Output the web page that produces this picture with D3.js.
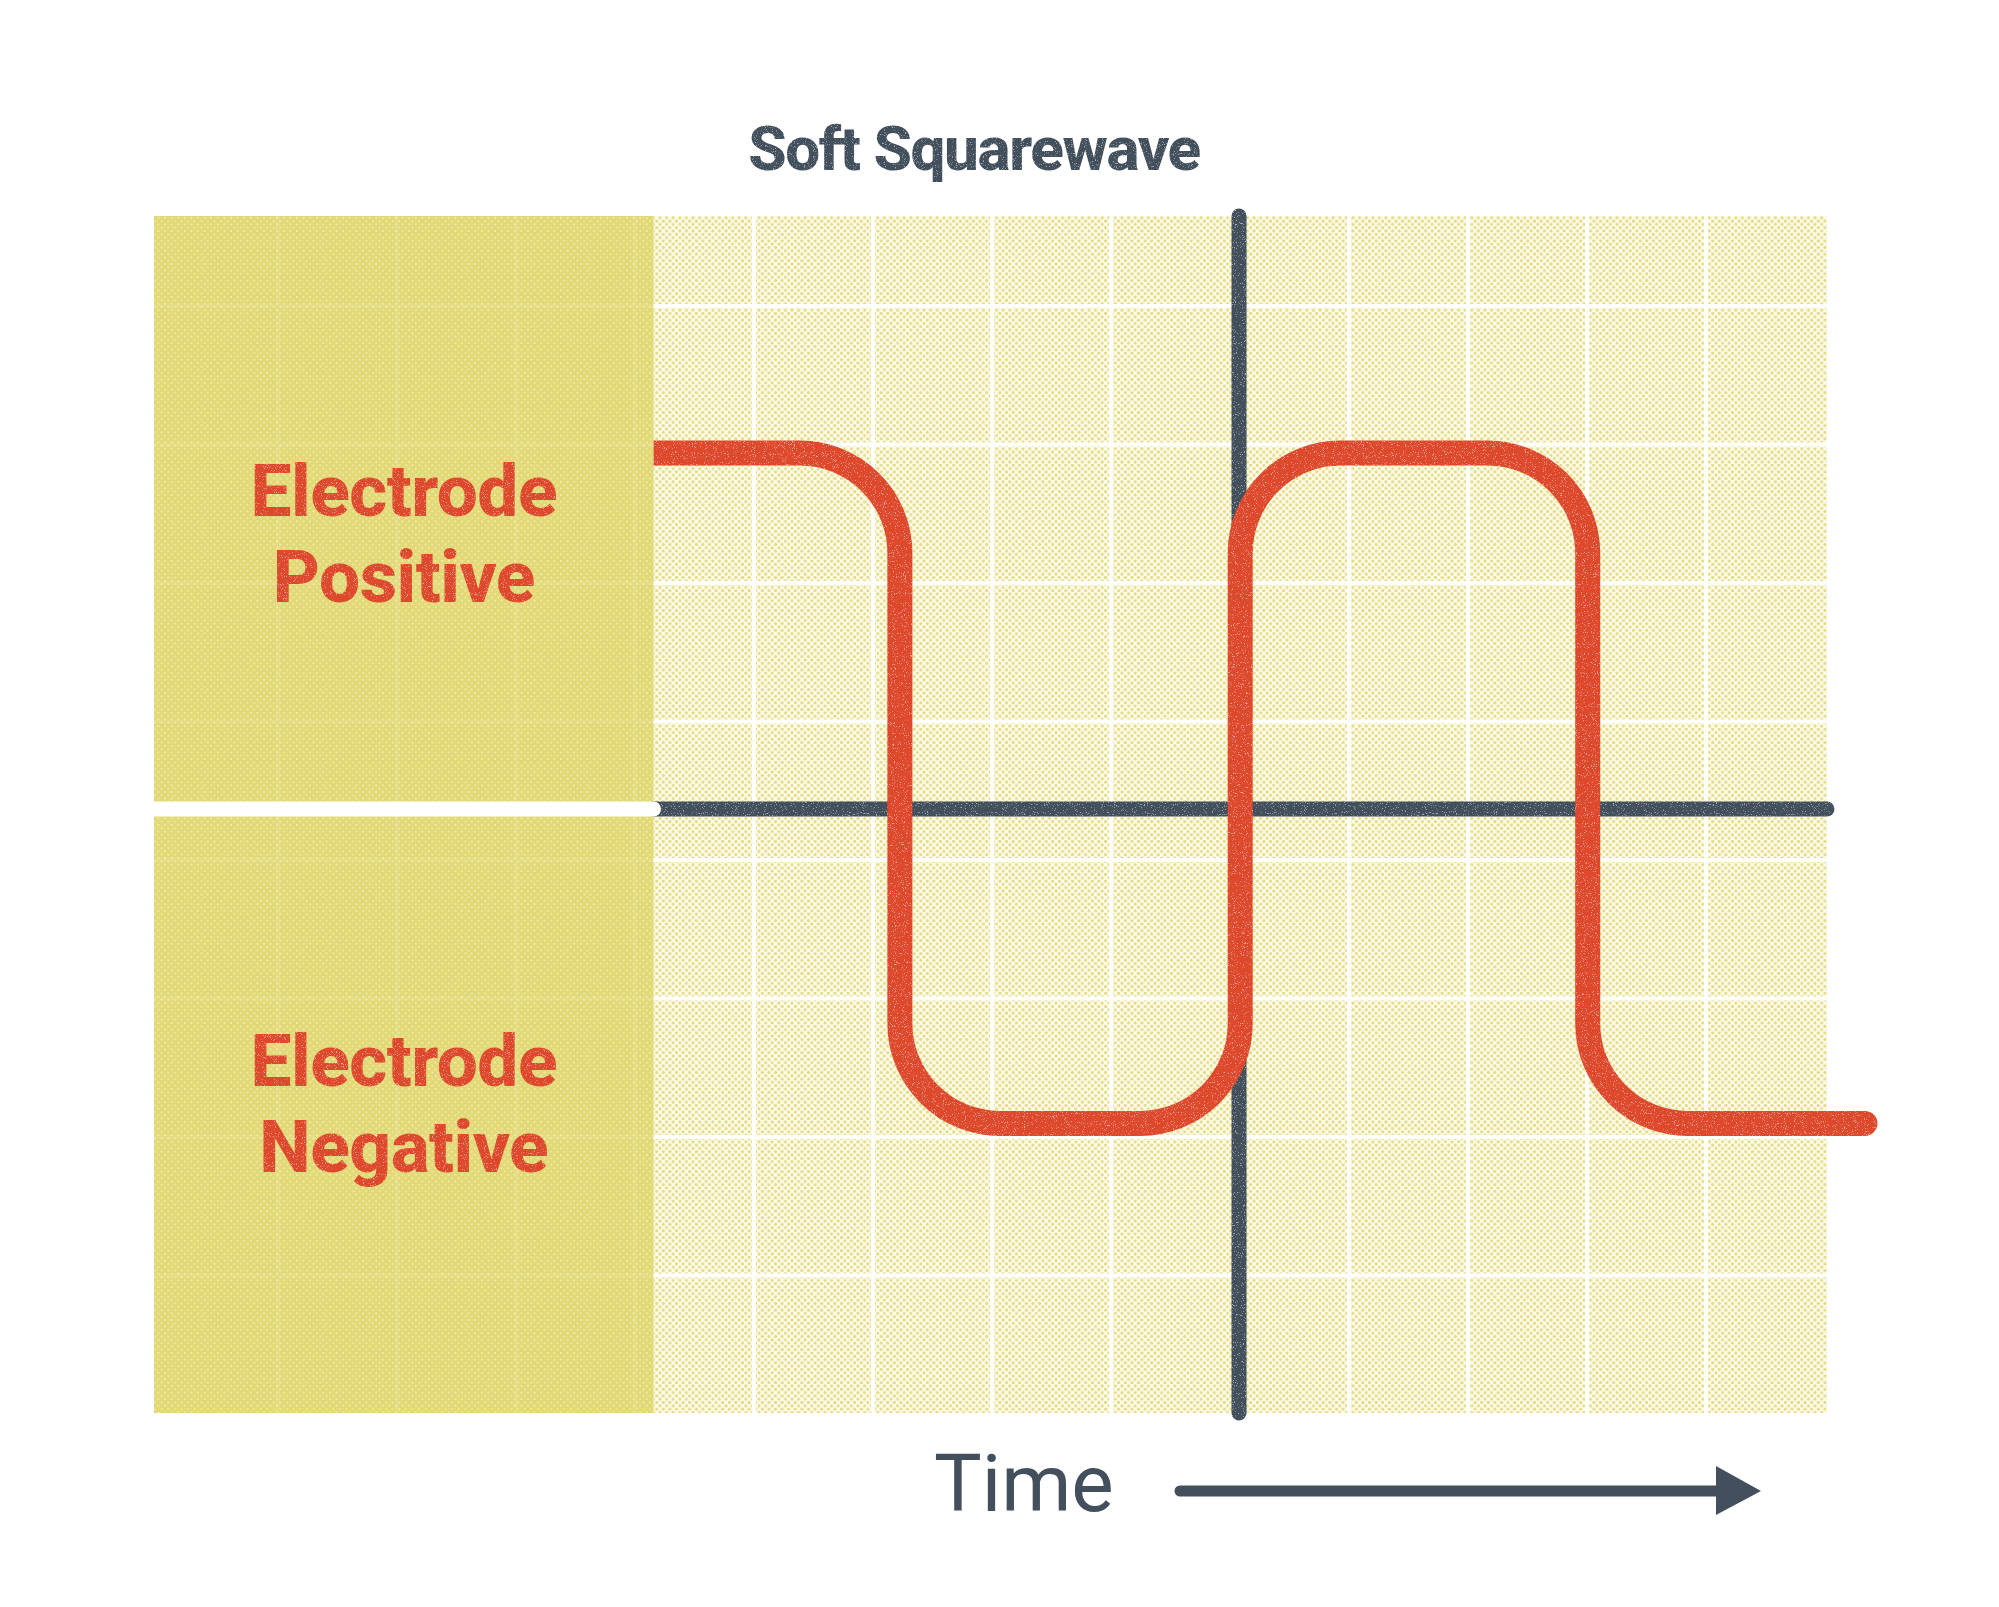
<!DOCTYPE html>
<html>
<head>
<meta charset="utf-8">
<script src="https://cdn.jsdelivr.net/npm/d3@7"></script>
<style>
  html, body { margin: 0; padding: 0; background: #fff; }
  svg { display: block; }
</style>
</head>
<body>
<div id="chart"></div>
<script>
// waveform corners: time in grid cells from the vertical axis, level in grid rows
const waveTime  = [-4.92, -2.85, -2.85, 0.01, 0.01, 2.93, 2.93, 5.26];
const waveLevel = [2.57, 2.57, -2.27, -2.27, 2.57, 2.57, -2.27, -2.27];
const levelLabels = [['Electrode', 'Positive'], ['Electrode', 'Negative']];
const titleText = 'Soft Squarewave';
const timeText = 'Time';

const W = 1999, H = 1607;
const plot = { left: 154, right: 1827, top: 216, bottom: 1413 };
const RED = '#dd4a29', SLATE = '#434f5d';

const x = d3.scaleLinear().domain([-9.118, 4.941]).range([plot.left, plot.right]);
const y = d3.scaleLinear().domain([-4.361, 4.282]).range([plot.bottom, plot.top]);

// grid of the paper is offset from the axes
const gridX = d3.range(-9, 5).map(k => k - 0.076)
  .filter(v => x(v) > plot.left + 6 && x(v) < plot.right - 6 && Math.abs(x(v) - x(0)) > 14);
const gridY = d3.range(-4, 4).map(k => k + 0.632);

const svg = d3.select('#chart').append('svg')
  .attr('width', W).attr('height', H)
  .style('font-family', "Roboto, 'Noto Sans', sans-serif");

const defs = svg.append('defs');

// halftone dot textures
const cell = 6.6;
const lattice = [[0, 0], [cell, 0], [0, cell], [cell, cell], [cell / 2, cell / 2]];
const light = defs.append('pattern')
  .attr('id', 'dotsLight').attr('patternUnits', 'userSpaceOnUse')
  .attr('width', cell).attr('height', cell);
light.append('rect').attr('width', cell).attr('height', cell).attr('fill', '#fdfcf3');
lattice.forEach(([cx, cy]) => {
  light.append('circle').attr('cx', cx).attr('cy', cy).attr('r', 1.7).attr('fill', '#e6dc80');
});

const dense = defs.append('pattern')
  .attr('id', 'dotsPanel').attr('patternUnits', 'userSpaceOnUse')
  .attr('width', cell).attr('height', cell);
dense.append('rect').attr('width', cell).attr('height', cell).attr('fill', '#e2d874');
lattice.forEach(([cx, cy]) => {
  dense.append('circle').attr('cx', cx).attr('cy', cy).attr('r', 1.0).attr('fill', '#f1ecbe');
});

// printed-ink grain: sparse pale specks inside the inked shapes
const grain = defs.append('filter').attr('id', 'grain')
  .attr('x', '-5%').attr('y', '-5%').attr('width', '110%').attr('height', '110%');
grain.append('feTurbulence')
  .attr('type', 'fractalNoise').attr('baseFrequency', 0.9)
  .attr('numOctaves', 2).attr('seed', 7).attr('result', 'noise');
grain.append('feColorMatrix').attr('in', 'noise').attr('type', 'matrix')
  .attr('values', '0 0 0 0 1  0 0 0 0 1  0 0 0 0 1  7 0 0 0 -4.3')
  .attr('result', 'specks');
grain.append('feComposite').attr('in', 'specks').attr('in2', 'SourceGraphic')
  .attr('operator', 'in').attr('result', 'inked');
grain.append('feComponentTransfer').attr('in', 'inked').attr('result', 'soft')
  .append('feFuncA').attr('type', 'linear').attr('slope', 0.35);
const merge = grain.append('feMerge');
merge.append('feMergeNode').attr('in', 'SourceGraphic');
merge.append('feMergeNode').attr('in', 'soft');

const panelEdge = x(waveTime[0]);

defs.append('clipPath').attr('id', 'clipPanel')
  .append('rect').attr('x', plot.left).attr('y', plot.top)
  .attr('width', panelEdge - plot.left).attr('height', plot.bottom - plot.top);
defs.append('clipPath').attr('id', 'clipField')
  .append('rect').attr('x', panelEdge).attr('y', plot.top)
  .attr('width', plot.right - panelEdge).attr('height', plot.bottom - plot.top);
defs.append('clipPath').attr('id', 'clipWave')
  .append('rect').attr('x', panelEdge).attr('y', 0)
  .attr('width', W - panelEdge).attr('height', H);

// backgrounds
svg.append('rect')
  .attr('x', plot.left).attr('y', plot.top)
  .attr('width', plot.right - plot.left).attr('height', plot.bottom - plot.top)
  .attr('fill', 'url(#dotsLight)');
svg.append('rect')
  .attr('x', plot.left).attr('y', plot.top)
  .attr('width', panelEdge - plot.left).attr('height', plot.bottom - plot.top)
  .attr('fill', 'url(#dotsPanel)');

// grid lines, strong on the field, faint on the label panel
function drawGrid(clip, opacity) {
  const g = svg.append('g').attr('clip-path', `url(#${clip})`)
    .attr('stroke', '#fff').attr('stroke-width', 4).attr('opacity', opacity);
  g.selectAll('.gx').data(gridX).join('line')
    .attr('x1', d => x(d)).attr('x2', d => x(d))
    .attr('y1', plot.top).attr('y2', plot.bottom);
  g.selectAll('.gy').data(gridY).join('line')
    .attr('x1', plot.left).attr('x2', plot.right)
    .attr('y1', d => y(d)).attr('y2', d => y(d));
}
drawGrid('clipField', 0.95);
drawGrid('clipPanel', 0.1);

// axes
const ink = svg.append('g').attr('filter', 'url(#grain)');
ink.append('line')
  .attr('x1', panelEdge).attr('x2', plot.right)
  .attr('y1', y(0)).attr('y2', y(0))
  .attr('stroke', SLATE).attr('stroke-width', 15).attr('stroke-linecap', 'round');
ink.append('line')
  .attr('x1', x(0)).attr('x2', x(0))
  .attr('y1', plot.top).attr('y2', plot.bottom)
  .attr('stroke', SLATE).attr('stroke-width', 15).attr('stroke-linecap', 'round');
svg.append('line')
  .attr('x1', plot.left).attr('x2', panelEdge)
  .attr('y1', y(0)).attr('y2', y(0))
  .attr('stroke', '#fff').attr('stroke-width', 15).attr('stroke-linecap', 'round');

// soft square wave: polyline with rounded corners
const pts = waveTime.map((t, i) => [x(t), y(waveLevel[i])]);
const corner = 100;
const p = d3.path();
p.moveTo(pts[0][0], pts[0][1]);
for (let i = 1; i < pts.length - 1; i++) {
  p.arcTo(pts[i][0], pts[i][1], pts[i + 1][0], pts[i + 1][1], corner);
}
p.lineTo(pts[pts.length - 1][0], pts[pts.length - 1][1]);

svg.append('g').attr('clip-path', 'url(#clipWave)')
  .append('path')
  .attr('filter', 'url(#grain)')
  .attr('d', p.toString())
  .attr('fill', 'none')
  .attr('stroke', RED).attr('stroke-width', 25)
  .attr('stroke-linecap', 'round').attr('stroke-linejoin', 'round');

// level labels in the left panel
const labelX = (plot.left + panelEdge) / 2;
const labelBase = [516, 1086];
levelLabels.forEach((lines, i) => {
  const t = svg.append('text')
    .attr('filter', 'url(#grain)')
    .attr('x', labelX).attr('y', labelBase[i])
    .attr('text-anchor', 'middle')
    .attr('fill', RED)
    .style('font-size', '73px').style('font-weight', 800)
    .style('letter-spacing', '-0.5px');
  lines.forEach((s, j) => {
    t.append('tspan').attr('x', labelX).attr('dy', j === 0 ? 0 : 86).text(s);
  });
});

// title
svg.append('text')
  .attr('filter', 'url(#grain)')
  .attr('x', 974).attr('y', 170)
  .attr('text-anchor', 'middle')
  .attr('fill', SLATE)
  .style('font-size', '62px').style('font-weight', 800)
  .style('letter-spacing', '-1.4px')
  .text(titleText);

// time arrow
svg.append('text')
  .attr('x', 934).attr('y', 1511)
  .attr('fill', SLATE)
  .style('font-size', '80px').style('font-weight', 400)
  .text(timeText);
svg.append('line')
  .attr('x1', 1180).attr('x2', 1722)
  .attr('y1', 1491).attr('y2', 1491)
  .attr('stroke', SLATE).attr('stroke-width', 11).attr('stroke-linecap', 'round');
svg.append('path')
  .attr('d', 'M1716,1466 L1761,1491 L1716,1515 Z')
  .attr('fill', SLATE);
</script>
</body>
</html>
